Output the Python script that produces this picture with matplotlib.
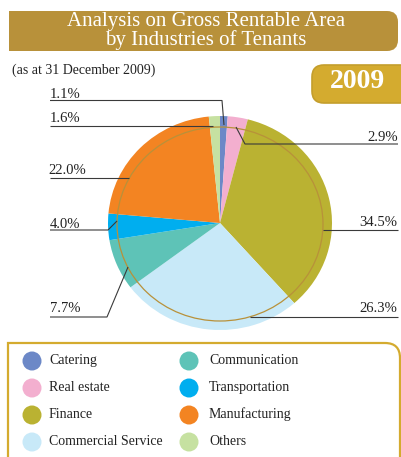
import numpy as np
import matplotlib
matplotlib.use("Agg")
import matplotlib.pyplot as plt
from matplotlib.patches import FancyBboxPatch, Rectangle, Ellipse, Circle, PathPatch
from matplotlib.path import Path

# data (clockwise from 12 o'clock)
categories = ["Catering", "Real estate", "Finance", "Commercial Service",
              "Communication", "Transportation", "Manufacturing", "Others"]
shares = [1.1, 2.9, 34.5, 26.3, 7.7, 4.0, 22.0, 1.6]
colors = ["#6c88c7", "#f3afcf", "#bab232", "#c8e9f8",
          "#5ec3b7", "#00aeef", "#f38422", "#c6e1a1"]
legend_order = ["Catering", "Real estate", "Finance", "Commercial Service",
                "Communication", "Transportation", "Manufacturing", "Others"]

title_lines = ["Analysis on Gross Rentable Area", "by Industries of Tenants"]
subtitle = "(as at 31 December 2009)"
year = "2009"

plt.rcParams['font.family'] = ['Liberation Serif', 'DejaVu Serif']

W, H = 401, 457
fig = plt.figure(figsize=(W / 100, H / 100), dpi=100)

# pie centre / radii in pixels
cx, cy, rx, ry = 220, 223, 112, 107
pax = fig.add_axes([(cx - rx) / W, 1 - (cy + ry) / H, 2 * rx / W, 2 * ry / H])
pax.set_zorder(1)
pax.pie(shares, colors=colors, startangle=90, counterclock=False,
        radius=1, wedgeprops=dict(linewidth=0))
pax.set_xlim(-1, 1)
pax.set_ylim(-1, 1)
pax.set_aspect('auto')
pax.axis('off')

# overlay in pixel coordinates
ax = fig.add_axes([0, 0, 1, 1])
ax.set_zorder(2)
ax.patch.set_alpha(0)
ax.set_xlim(0, W)
ax.set_ylim(H, 0)
ax.axis('off')

gold_dark = "#b8913a"
gold = "#d4ab2f"

# title banner (square left, rounded right)
ax.add_patch(FancyBboxPatch((9, 11), 389, 40, boxstyle="round,pad=0,rounding_size=11",
                            fc=gold_dark, ec='none'))
ax.add_patch(Rectangle((9, 11), 60, 40, fc=gold_dark, ec='none'))
ax.text(206, 26, title_lines[0], color='white', fontsize=15, ha='center', va='baseline')
ax.text(206, 45.5, title_lines[1], color='white', fontsize=15, ha='center', va='baseline')

ax.text(12, 74, subtitle, fontsize=10, ha='left', va='baseline', color='#222222')

# year badge
ax.add_patch(FancyBboxPatch((312, 65), 100, 38, boxstyle="round,pad=0,rounding_size=12",
                            fc=gold, ec="#c49e2c", lw=1.2))
ax.text(357.5, 88, year, color='white', fontsize=20, fontweight='bold',
        ha='center', va='baseline')

# inner ring
ax.add_patch(Ellipse((220, 224), 206, 194, fill=False, ec=gold_dark, lw=0.9))

# leader lines and labels (layout only)
lab = dict(zip(categories, shares))
leaders = [
    ("Catering",           [(50, 100.5), (222, 100.5), (224, 125)], (50, 97.5), 'left'),
    ("Others",             [(50, 125.5), (213, 125.5)],              (50, 122), 'left'),
    ("Real estate",        [(236, 127), (245, 144), (398, 144)],     (397.5, 141), 'right'),
    ("Manufacturing",      [(50, 178), (129, 178)],                  (48, 174), 'left'),
    ("Transportation",     [(50, 230), (108, 230), (117, 221)],      (50, 227.5), 'left'),
    ("Communication",      [(50, 317), (107, 317), (128, 267)],      (50, 312), 'left'),
    ("Finance",            [(323, 230), (398, 230)],                 (397.5, 225.5), 'right'),
    ("Commercial Service", [(250, 317), (398, 317)],                 (397.5, 312), 'right'),
]
for name, pts, (tx, ty), ha in leaders:
    xs, ys = zip(*pts)
    ax.plot(xs, ys, color='#3a3a3a', lw=0.8, solid_capstyle='butt')
    ax.text(tx, ty, f"{lab[name]:.1f}%", fontsize=10.5, ha=ha, va='baseline', color='#222222')

# legend frame (rounded top-right corner)
r = 15
verts = [(8, 470), (8, 343), (400 - r, 343), (400, 343), (400, 343 + r), (400, 470)]
codes = [Path.MOVETO, Path.LINETO, Path.LINETO, Path.CURVE3, Path.CURVE3, Path.LINETO]
ax.add_patch(PathPatch(Path(verts, codes), fc='white', ec=gold, lw=1.6))

col_x = [32, 189]
row_y = [361, 388, 415, 442]
cmap = dict(zip(categories, colors))
for i, name in enumerate(legend_order):
    x0 = col_x[i // 4]
    y0 = row_y[i % 4]
    ax.add_patch(Circle((x0, y0), 9.5, fc=cmap[name], ec='none'))
    ax.text(x0 + 17 + (3 if i >= 4 else 0), y0 + 3, name, fontsize=10,
            ha='left', va='baseline', color='#222222')

fig.savefig("out.png", dpi=100)
